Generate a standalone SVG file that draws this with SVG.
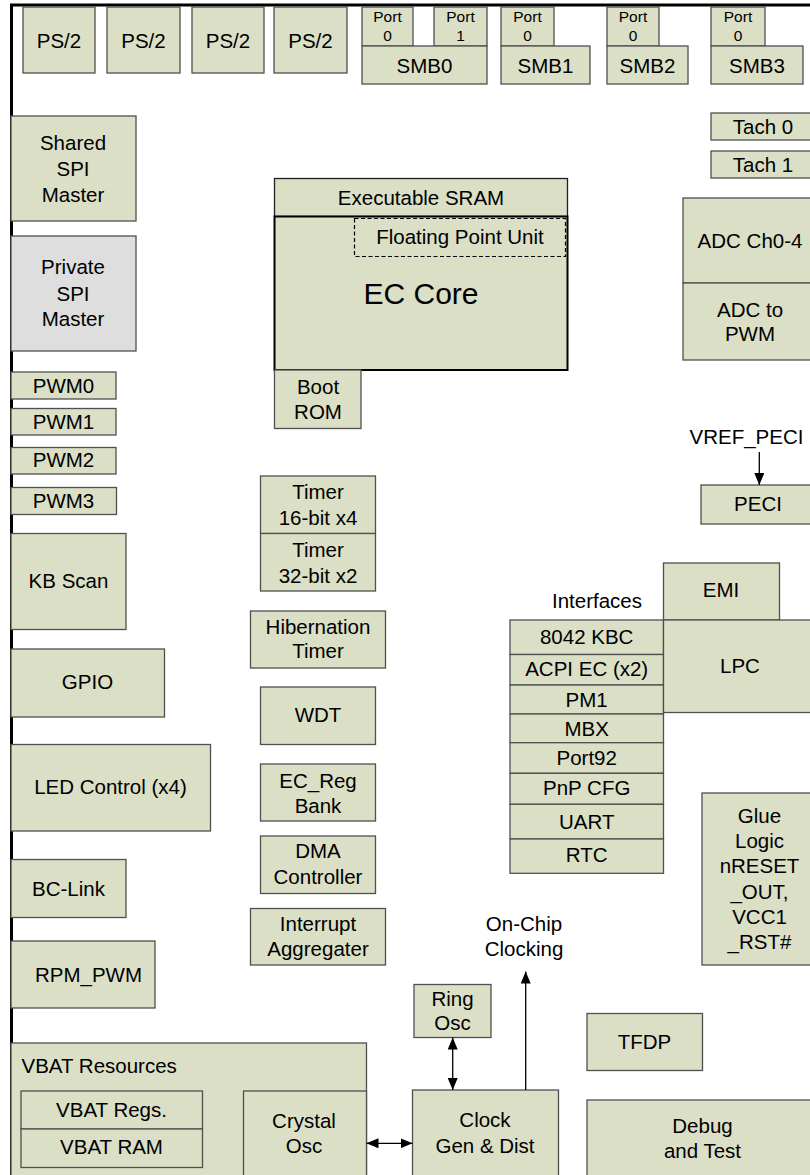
<svg xmlns="http://www.w3.org/2000/svg" width="810" height="1175" viewBox="0 0 810 1175">
<style>
.b{fill:#dadfc6;stroke:#505050;stroke-width:1.3}
.g{fill:#dedede;stroke:#505050;stroke-width:1.3}
.t{font-family:"Liberation Sans",Arial,sans-serif;font-size:20.5px;fill:#000;text-anchor:middle}
.s{font-family:"Liberation Sans",Arial,sans-serif;font-size:15.5px;fill:#000;text-anchor:middle}
.l{text-anchor:start}
.c{stroke:#000;stroke-width:1.3;fill:none}
</style>
<defs>
<marker id="ah" markerUnits="userSpaceOnUse" markerWidth="12" markerHeight="10" refX="12" refY="5" orient="auto-start-reverse"><path d="M0,0 L12,5 L0,10 z" fill="#000"/></marker>
</defs>
<rect width="810" height="1175" fill="#fff"/>
<path d="M11.5,1176 V5 H812" fill="none" stroke="#000" stroke-width="3"/>

<g id="ps2a"><rect class="b" x="23" y="7" width="72" height="66"/><text class="t" x="59" y="47.5">PS/2</text></g>
<g id="ps2b"><rect class="b" x="107" y="7" width="73" height="66"/><text class="t" x="143.5" y="47.5">PS/2</text></g>
<g id="ps2c"><rect class="b" x="192" y="7" width="72" height="66"/><text class="t" x="228" y="47.5">PS/2</text></g>
<g id="ps2d"><rect class="b" x="274" y="7" width="73" height="66"/><text class="t" x="310.5" y="47.5">PS/2</text></g>

<g id="smb0"><rect class="b" x="362" y="7" width="51" height="39"/><text class="s" x="387.5" y="22">Port</text><text class="s" x="387.5" y="40.5">0</text>
<rect class="b" x="434" y="7" width="53" height="39"/><text class="s" x="460.5" y="22">Port</text><text class="s" x="460.5" y="40.5">1</text>
<rect class="b" x="362" y="46" width="125" height="38"/><text class="t" x="424.5" y="72.5">SMB0</text></g>
<g id="smb1"><rect class="b" x="501" y="7" width="53" height="39"/><text class="s" x="527.5" y="22">Port</text><text class="s" x="527.5" y="40.5">0</text>
<rect class="b" x="501" y="46" width="89" height="38"/><text class="t" x="545.5" y="72.5">SMB1</text></g>
<g id="smb2"><rect class="b" x="607" y="7" width="52" height="39"/><text class="s" x="633" y="22">Port</text><text class="s" x="633" y="40.5">0</text>
<rect class="b" x="607" y="46" width="81" height="38"/><text class="t" x="647.5" y="72.5">SMB2</text></g>
<g id="smb3"><rect class="b" x="711" y="7" width="54" height="39"/><text class="s" x="738" y="22">Port</text><text class="s" x="738" y="40.5">0</text>
<rect class="b" x="711" y="46" width="92" height="38"/><text class="t" x="757" y="72.5">SMB3</text></g>

<g id="tach0"><rect class="b" x="711" y="113" width="104" height="27"/><text class="t" x="763" y="134">Tach 0</text></g>
<g id="tach1"><rect class="b" x="711" y="151" width="104" height="27"/><text class="t" x="763" y="172">Tach 1</text></g>

<g id="adc"><rect class="b" x="683" y="198" width="134" height="85"/><text class="t" x="750" y="247.5">ADC Ch0-4</text>
<rect class="b" x="683" y="283" width="134" height="77"/><text class="t" x="750" y="317">ADC to</text><text class="t" x="750" y="341">PWM</text></g>

<g id="sharedspi"><rect class="b" x="11" y="116" width="125" height="105"/><text class="t" x="73" y="150">Shared</text><text class="t" x="73" y="176">SPI</text><text class="t" x="73" y="202">Master</text></g>
<g id="privatespi"><rect class="g" x="11" y="236" width="125" height="115"/><text class="t" x="73" y="274">Private</text><text class="t" x="73" y="300.5">SPI</text><text class="t" x="73" y="326">Master</text></g>

<g id="pwm0"><rect class="b" x="11" y="372" width="105" height="27"/><text class="t" x="63.5" y="392.5">PWM0</text></g>
<g id="pwm1"><rect class="b" x="11" y="408.5" width="105" height="26.5"/><text class="t" x="63.5" y="429">PWM1</text></g>
<g id="pwm2"><rect class="b" x="11" y="447.5" width="105" height="26.5"/><text class="t" x="63.5" y="467">PWM2</text></g>
<g id="pwm3"><rect class="b" x="11" y="487.5" width="105.5" height="27"/><text class="t" x="63.5" y="507.5">PWM3</text></g>
<g id="kbscan"><rect class="b" x="11" y="533.5" width="115" height="96"/><text class="t" x="68.5" y="588">KB Scan</text></g>
<g id="gpio"><rect class="b" x="11" y="649" width="153.5" height="68"/><text class="t" x="87.5" y="689">GPIO</text></g>
<g id="led"><rect class="b" x="11" y="744.5" width="199.5" height="86.5"/><text class="t" x="110.5" y="794">LED Control (x4)</text></g>
<g id="bclink"><rect class="b" x="11" y="859.5" width="115" height="58"/><text class="t" x="68.5" y="896">BC-Link</text></g>
<g id="rpmpwm"><rect class="b" x="11" y="941" width="144" height="67"/><text class="t" x="88.5" y="981.5">RPM_PWM</text></g>

<g id="vbat"><rect class="b" x="11" y="1043" width="355.5" height="140"/><text class="t l" x="21.5" y="1072.5">VBAT Resources</text>
<rect class="b" x="21" y="1091" width="181.5" height="38"/><text class="t" x="111.5" y="1117">VBAT Regs.</text>
<rect class="b" x="21" y="1129" width="181.5" height="38.5"/><text class="t" x="111.5" y="1153.5">VBAT RAM</text></g>
<g id="crystal"><rect class="b" x="243.5" y="1091" width="123" height="92"/><text class="t" x="304" y="1127.5">Crystal</text><text class="t" x="304" y="1152.5">Osc</text></g>

<g id="eccore"><rect class="b" x="274.5" y="178.5" width="293" height="38" style="stroke:#202020"/><text class="t" x="421" y="205">Executable SRAM</text>
<rect class="b" x="274.5" y="216.5" width="293" height="153.5" style="stroke:#000;stroke-width:2"/>
<text class="t" x="421" y="304" style="font-size:30px">EC Core</text></g>
<g id="fpu"><rect x="354.5" y="218.5" width="211" height="38" fill="none" stroke="#000" stroke-width="1.2" stroke-dasharray="4,2.5"/><text class="t" x="460" y="244">Floating Point Unit</text></g>
<g id="bootrom"><rect class="b" x="274.5" y="370" width="86.5" height="58.5"/><text class="t" x="318" y="393.5">Boot</text><text class="t" x="318" y="419">ROM</text></g>

<g id="timer16"><rect class="b" x="260.5" y="476" width="115" height="57.5"/><text class="t" x="318" y="498.5">Timer</text><text class="t" x="318" y="525">16-bit x4</text></g>
<g id="timer32"><rect class="b" x="260.5" y="533.5" width="115" height="57.5"/><text class="t" x="318" y="556.5">Timer</text><text class="t" x="318" y="582.5">32-bit x2</text></g>
<g id="hib"><rect class="b" x="250.5" y="611" width="135" height="57"/><text class="t" x="318" y="633.5">Hibernation</text><text class="t" x="318" y="658">Timer</text></g>
<g id="wdt"><rect class="b" x="260.5" y="687" width="115" height="57.5"/><text class="t" x="318" y="722">WDT</text></g>
<g id="ecreg"><rect class="b" x="260.5" y="764" width="115" height="57"/><text class="t" x="318" y="787.5">EC_Reg</text><text class="t" x="318" y="812.5">Bank</text></g>
<g id="dma"><rect class="b" x="260.5" y="836" width="115" height="57.5"/><text class="t" x="318" y="858">DMA</text><text class="t" x="318" y="883.5">Controller</text></g>
<g id="intagg"><rect class="b" x="250.5" y="908.5" width="135" height="56.5"/><text class="t" x="318" y="931">Interrupt</text><text class="t" x="318" y="956">Aggregater</text></g>

<g id="ringosc"><rect class="b" x="414" y="984.5" width="77" height="53"/><text class="t" x="452.5" y="1006">Ring</text><text class="t" x="452.5" y="1030">Osc</text></g>
<g id="clockgen"><rect class="b" x="412.5" y="1090" width="146" height="93"/><text class="t" x="485" y="1127">Clock</text><text class="t" x="485" y="1152.5">Gen &amp; Dist</text></g>
<g id="onchip"><text class="t" x="524" y="930.5">On-Chip</text><text class="t" x="524" y="955.5">Clocking</text></g>
<g id="tfdp"><rect class="b" x="587" y="1013.5" width="115.5" height="57"/><text class="t" x="644.5" y="1049">TFDP</text></g>
<g id="debug"><rect class="b" x="587" y="1100" width="232" height="83"/><text class="t" x="702.5" y="1132.5">Debug</text><text class="t" x="702.5" y="1158">and Test</text></g>

<g id="glue"><rect class="b" x="702" y="793" width="116" height="172"/>
<text class="t" x="759.5" y="822.5">Glue</text><text class="t" x="759.5" y="847.5">Logic</text><text class="t" x="759.5" y="873">nRESET</text><text class="t" x="759.5" y="898.5">_OUT,</text><text class="t" x="759.5" y="924">VCC1</text><text class="t" x="759.5" y="949">_RST#</text></g>

<g id="interfaces"><text class="t" x="597" y="607.5">Interfaces</text>
<rect class="b" x="510" y="620" width="153.5" height="34.5"/><text class="t" x="586.7" y="644">8042 KBC</text>
<rect class="b" x="510" y="654.5" width="153.5" height="30.5"/><text class="t" x="586.7" y="676">ACPI EC (x2)</text>
<rect class="b" x="510" y="685" width="153.5" height="29"/><text class="t" x="586.7" y="707">PM1</text>
<rect class="b" x="510" y="714" width="153.5" height="28.7"/><text class="t" x="586.7" y="736">MBX</text>
<rect class="b" x="510" y="742.7" width="153.5" height="30.6"/><text class="t" x="586.7" y="765">Port92</text>
<rect class="b" x="510" y="773.3" width="153.5" height="31"/><text class="t" x="586.7" y="795">PnP CFG</text>
<rect class="b" x="510" y="804.3" width="153.5" height="34.7"/><text class="t" x="586.7" y="828.5">UART</text>
<rect class="b" x="510" y="839" width="153.5" height="34.3"/><text class="t" x="586.7" y="861.5">RTC</text></g>
<g id="emi"><rect class="b" x="663.5" y="563" width="116" height="57"/><text class="t" x="721" y="597">EMI</text></g>
<g id="lpc"><rect class="b" x="663.5" y="620" width="154" height="92.5"/><text class="t" x="740" y="672.5">LPC</text></g>
<g id="peci"><rect class="b" x="701" y="485" width="114" height="39"/><text class="t" x="758" y="511">PECI</text></g>
<g id="vref"><text class="t" x="746.5" y="444">VREF_PECI</text></g>

<g id="connectors">
<line class="c" x1="759.3" y1="452" x2="759.3" y2="485" marker-end="url(#ah)"/>
<line class="c" x1="452.7" y1="1037.5" x2="452.7" y2="1090" marker-start="url(#ah)" marker-end="url(#ah)"/>
<line class="c" x1="525.7" y1="1090" x2="525.7" y2="971.5" marker-end="url(#ah)"/>
<line class="c" x1="366.5" y1="1143.3" x2="412.5" y2="1143.3" marker-start="url(#ah)" marker-end="url(#ah)"/>
</g>
</svg>
